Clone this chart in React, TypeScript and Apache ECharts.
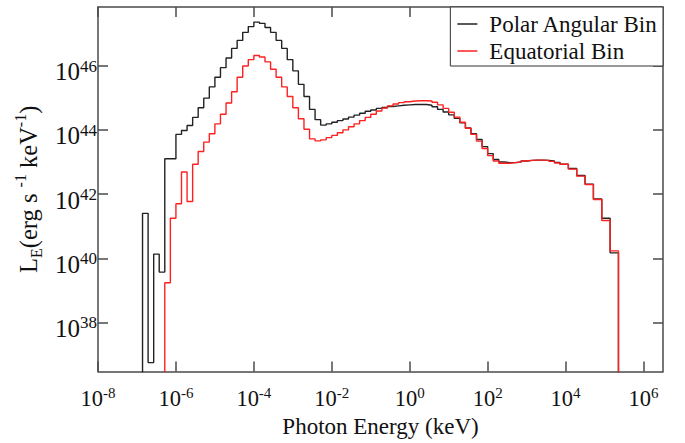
import React, { useEffect, useRef } from 'react';
import * as echarts from 'echarts';

// Bin edges, as log10(photon energy / keV)
const binEdgesLogKeV = [
  -6.857, -6.714, -6.571, -6.429, -6.286, -6.143, -6.0, -5.857, -5.714, -5.571,
  -5.429, -5.286, -5.143, -5.0, -4.857, -4.714, -4.571, -4.429, -4.286, -4.143,
  -4.0, -3.857, -3.714, -3.571, -3.429, -3.286, -3.143, -3.0, -2.857, -2.714,
  -2.571, -2.429, -2.286, -2.143, -2.0, -1.857, -1.714, -1.571, -1.429, -1.286,
  -1.143, -1.0, -0.857, -0.714, -0.571, -0.429, -0.286, -0.143, 0.0, 0.143,
  0.286, 0.429, 0.571, 0.714, 0.857, 1.0, 1.143, 1.286, 1.429, 1.571,
  1.714, 1.857, 2.0, 2.143, 2.286, 2.429, 2.571, 2.714, 2.857, 3.0,
  3.143, 3.286, 3.429, 3.571, 3.714, 3.857, 4.071, 4.286, 4.5, 4.714,
  4.929, 5.143, 5.357,
];

// log10(L_E / (erg s^-1 keV^-1)) per bin
const polarLogL = [
  41.40, 36.75, 40.13, 39.57, 43.10, 43.10, 43.86, 43.98, 44.14, 44.39,
  44.69, 44.99, 45.34, 45.64, 45.94, 46.24, 46.54, 46.79, 47.04, 47.22,
  47.36, 47.32, 47.19, 47.04, 46.79, 46.54, 46.19, 45.84, 45.42, 45.04,
  44.64, 44.32, 44.15, 44.19, 44.24, 44.29, 44.34, 44.40, 44.46, 44.52,
  44.58, 44.62, 44.67, 44.70, 44.73, 44.75, 44.77, 44.78, 44.79, 44.79,
  44.79, 44.77, 44.72, 44.64, 44.56, 44.47, 44.36, 44.22, 44.06, 43.88,
  43.70, 43.48, 43.26, 43.08, 43.00, 42.98, 42.98, 43.00, 43.03, 43.05,
  43.06, 43.06, 43.05, 43.03, 42.99, 42.93, 42.80, 42.58, 42.31, 41.85,
  41.25, 40.17,
];

const equatorialLogL = [
  null, null, null, null, 39.24, 41.25, 41.70, 42.69, 41.77, 42.93,
  43.33, 43.62, 43.88, 44.19, 44.49, 44.84, 45.19, 45.64, 45.99, 46.19,
  46.32, 46.27, 46.12, 45.89, 45.64, 45.34, 45.04, 44.69, 44.35, 44.02,
  43.72, 43.66, 43.69, 43.76, 43.83, 43.91, 44.00, 44.10, 44.19, 44.29,
  44.39, 44.49, 44.59, 44.68, 44.75, 44.81, 44.85, 44.88, 44.90, 44.91,
  44.91, 44.90, 44.86, 44.78, 44.67, 44.55, 44.40, 44.24, 44.05, 43.86,
  43.65, 43.42, 43.20, 43.03, 42.96, 42.96, 42.98, 43.00, 43.03, 43.05,
  43.06, 43.06, 43.05, 43.02, 42.97, 42.93, 42.78, 42.56, 42.30, 41.83,
  41.18, 40.23,
];

const seriesNames = ['Polar Angular Bin', 'Equatorial Bin'];
const xTickExponents = [-8, -6, -4, -2, 0, 2, 4, 6];
const yTickExponents = [38, 40, 42, 44, 46];

const SERIF = '"Liberation Serif", "DejaVu Serif", serif';
const FRAME = '#4a4a4a';
const FLOOR = 30; // below the axis minimum, so histogram edges run to the bottom

function stepPoints(values: (number | null)[]) {
  const pts: number[][] = [];
  for (let i = 0; i < values.length; i++) {
    const v = values[i];
    if (v == null) continue;
    if (pts.length === 0) pts.push([binEdgesLogKeV[i], FLOOR]);
    pts.push([binEdgesLogKeV[i], v]);
  }
  const n = values.length;
  const last = values[n - 1] as number;
  pts.push([binEdgesLogKeV[n], last]);
  pts.push([binEdgesLogKeV[n], FLOOR]);
  return pts;
}

const xTickRich = {
  b: { fontFamily: SERIF, fontSize: 22.5, lineHeight: 26, color: '#111' },
  s: { fontFamily: SERIF, fontSize: 15, lineHeight: 10, verticalAlign: 'top', color: '#111' },
};

const yTickRich = {
  b: { fontFamily: SERIF, fontSize: 25, lineHeight: 28, color: '#111' },
  s: { fontFamily: SERIF, fontSize: 17, lineHeight: 10, verticalAlign: 'top', color: '#111' },
};

const nameRich = {
  m: { fontFamily: SERIF, fontSize: 24.5, lineHeight: 32, color: '#111' },
  sup: { fontFamily: SERIF, fontSize: 16, lineHeight: 15, verticalAlign: 'top', color: '#111' },
  sub: { fontFamily: SERIF, fontSize: 16, lineHeight: 15, verticalAlign: 'bottom', color: '#111' },
};

export default function App() {
  const ref = useRef<HTMLDivElement>(null);
  useEffect(() => {
    if (!ref.current) return;
    const chart = echarts.init(ref.current, null, { renderer: 'svg' });
    const frameAxisLine = { show: true, onZero: false, lineStyle: { color: FRAME, width: 1.5 } };
    const tickStyle = { color: FRAME, width: 1.5 };
    chart.setOption({
      animation: false,
      backgroundColor: '#fff',
      grid: { left: 98, right: 22, top: 7, bottom: 58, containLabel: false },
      legend: {
        data: seriesNames,
        orient: 'vertical',
        right: 22,
        top: 7,
        icon: 'rect',
        backgroundColor: '#fff',
        borderColor: '#333',
        borderWidth: 1,
        borderRadius: 0,
        padding: [5, 5, 3, 7],
        itemWidth: 20,
        itemHeight: 1.5,
        itemGap: 3,
        textStyle: { fontFamily: SERIF, fontSize: 23, color: '#111', lineHeight: 24, padding: [0, 0, 0, 7] },
      },
      xAxis: [
        {
          type: 'value',
          min: -8,
          max: 6.5,
          position: 'bottom',
          axisLine: frameAxisLine,
          axisTick: { show: true, inside: true, length: 10, customValues: xTickExponents, lineStyle: tickStyle },
          axisLabel: {
            customValues: xTickExponents,
            formatter: (v: number) => `{b|10}{s|${v}}`,
            rich: xTickRich,
            margin: 14,
          },
          splitLine: { show: false },
          name: 'Photon Energy (keV)',
          nameLocation: 'middle',
          nameGap: 36,
          nameTextStyle: { fontFamily: SERIF, fontSize: 23, color: '#111' },
        },
        {
          type: 'value',
          min: -8,
          max: 6.5,
          position: 'top',
          axisLine: frameAxisLine,
          axisTick: { show: true, inside: true, length: 10, customValues: xTickExponents, lineStyle: tickStyle },
          axisLabel: { show: false },
          splitLine: { show: false },
        },
      ],
      yAxis: [
        {
          type: 'value',
          min: 36.47,
          max: 47.83,
          position: 'left',
          axisLine: frameAxisLine,
          axisTick: { show: true, inside: true, length: 10, customValues: yTickExponents, lineStyle: tickStyle },
          axisLabel: {
            customValues: yTickExponents,
            formatter: (v: number) => `{b|10}{s|${v}}`,
            rich: yTickRich,
            margin: 1,
            padding: [12, 0, 0, 0],
          },
          splitLine: { show: false },
          name: '{m|L}{sub|E}{m|(erg s }{sup|-1}{m| keV}{sup|-1}{m|)}',
          nameLocation: 'middle',
          nameRotate: 90,
          nameGap: 50,
          nameTextStyle: { rich: nameRich },
        },
        {
          type: 'value',
          min: 36.47,
          max: 47.83,
          position: 'right',
          axisLine: frameAxisLine,
          axisTick: { show: true, inside: true, length: 10, customValues: yTickExponents, lineStyle: tickStyle },
          axisLabel: { show: false },
          splitLine: { show: false },
        },
      ],
      series: [
        {
          name: seriesNames[0],
          type: 'line',
          step: 'end',
          symbol: 'none',
          clip: true,
          xAxisIndex: 0,
          yAxisIndex: 0,
          lineStyle: { color: '#222', width: 1.4 },
          itemStyle: { color: '#222' },
          data: stepPoints(polarLogL),
          z: 2,
        },
        {
          name: seriesNames[1],
          type: 'line',
          step: 'end',
          symbol: 'none',
          clip: true,
          xAxisIndex: 0,
          yAxisIndex: 0,
          lineStyle: { color: '#ff2020', width: 1.4 },
          itemStyle: { color: '#ff2020' },
          data: stepPoints(equatorialLogL),
          z: 3,
        },
      ],
    });
    return () => chart.dispose();
  }, []);
  return (
    <div
      ref={ref}
      style={{ position: 'fixed', left: 0, top: 0, width: 685, height: 443, background: '#fff' }}
    />
  );
}
